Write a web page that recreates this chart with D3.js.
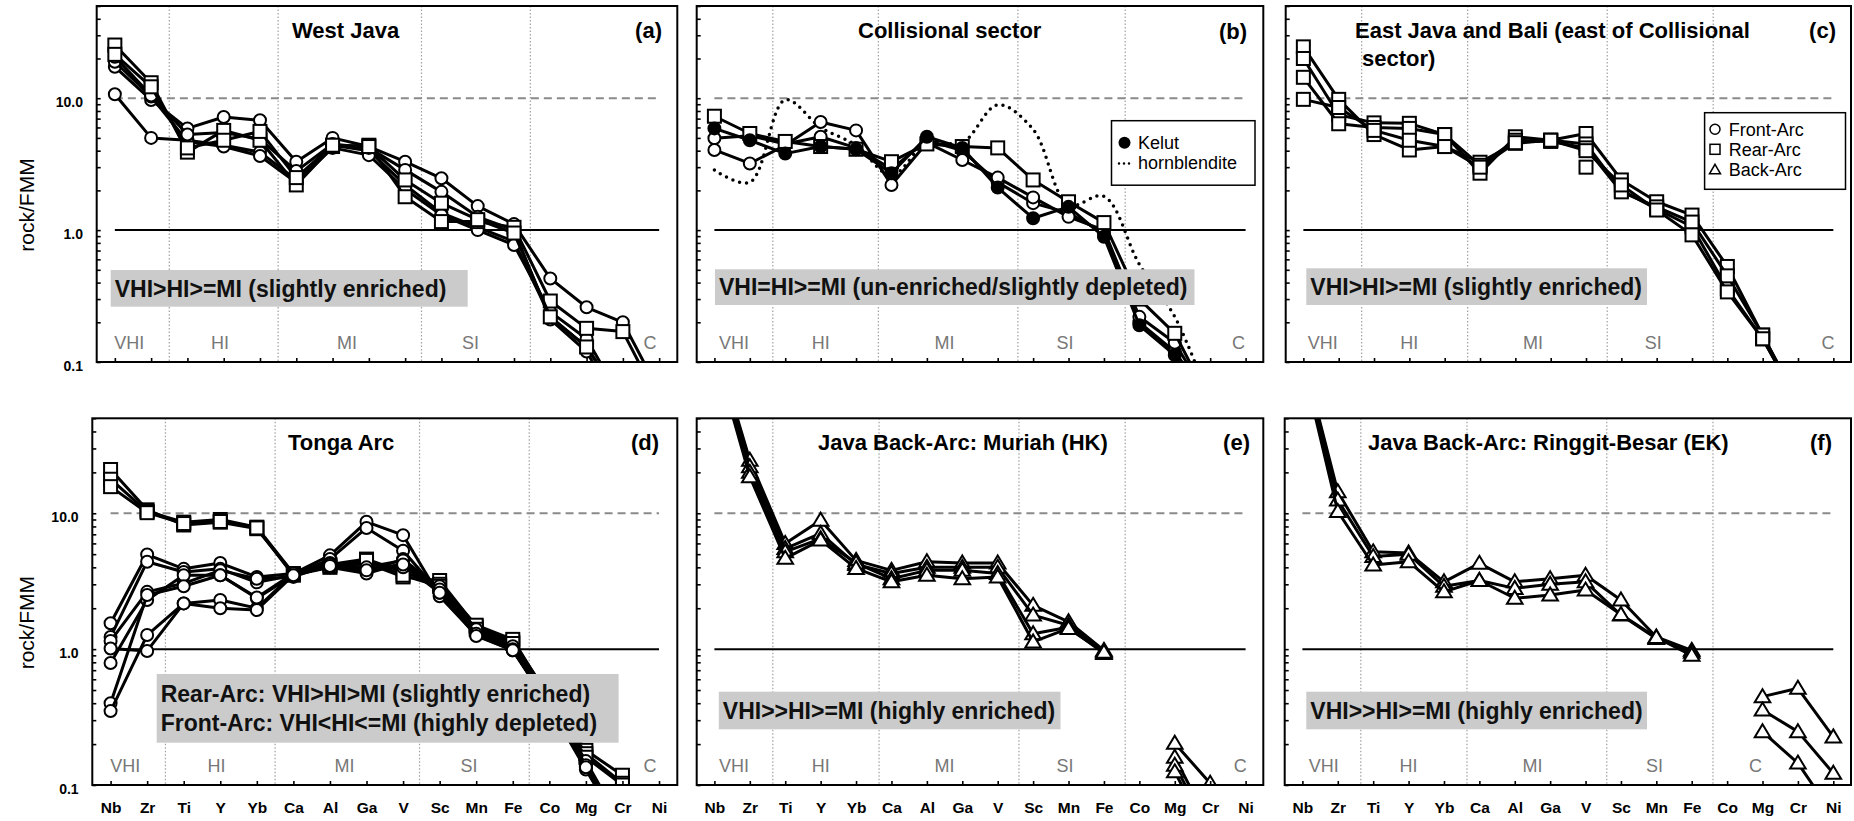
<!DOCTYPE html>
<html><head><meta charset="utf-8">
<script src="https://cdn.jsdelivr.net/npm/d3@7"></script>
<style>
body{margin:0;background:#fff;}
svg{display:block;font-family:"Liberation Sans",Arial,Helvetica,sans-serif;}
</style></head><body>
<svg id="chart" width="1854" height="821"></svg>
<script>
// ---------------- data ----------------
const elements = ["Nb","Zr","Ti","Y","Yb","Ca","Al","Ga","V","Sc","Mn","Fe","Co","Mg","Cr","Ni"];
const regionNames = ["VHI","HI","MI","SI","C"];
const yTickValues = [0.1, 1, 10];
const yTickLabels = ["0.1","1.0","10.0"];
const yLabel = "rock/FMM";
const titles = [["West Java"],["Collisional sector"],["East Java and Bali (east of Collisional","sector)"],["Tonga Arc"],["Java Back-Arc: Muriah (HK)"],["Java Back-Arc: Ringgit-Besar (EK)"]];
const letters = ["(a)","(b)","(c)","(d)","(e)","(f)"];
const notes = [["VHI>HI>=MI (slightly enriched)"],["VHI=HI>=MI (un-enriched/slightly depleted)"],["VHI>HI>=MI (slightly enriched)"],["Rear-Arc: VHI>HI>MI (slightly enriched)","Front-Arc: VHI<HI<=MI (highly depleted)"],["VHI>>HI>=MI (highly enriched)"],["VHI>>HI>=MI (highly enriched)"]];
const legendB = ["Kelut","hornblendite"];
const legendC = ["Front-Arc","Rear-Arc","Back-Arc"];

// (a) West Java
const aFront = [
 [10.7, 5.0, 4.8, 4.4, 3.9, 2.4, 4.4, 4.0, 2.2, 1.35, 1.05, 0.82, 0.22, 0.13, 0.05, null],
 [17.3, 9.7, 5.9, 7.2, 6.8, 3.3, 5.0, 4.3, 3.3, 2.47, 1.52, 1.11, 0.43, 0.26, 0.20, 0.06],
 [18.9, 10.3, 4.7, 4.3, 3.65, 2.29, 4.2, 3.7, 2.04, 1.3, 1.0, 0.77, 0.24, 0.15, 0.05, null],
 [20.6, 10.5, 5.3, 5.5, 4.9, 2.8, 4.5, 4.2, 2.86, 1.95, 1.26, 1.0, 0.21, 0.12, 0.04, null]
];
const aRear = [
 [25.3, 13.1, 3.9, 5.7, 4.8, 2.2, 4.3, 4.4, 1.79, 1.16, 1.16, 1.05, 0.29, 0.18, 0.17, 0.05],
 [21.5, 12.2, 4.2, 4.8, 5.6, 2.5, 4.4, 4.3, 2.4, 1.6, 1.2, 0.95, 0.22, 0.13, 0.05, null]
];
// (b) Collisional sector
const bFront = [
 [4.97, 5.2, 4.5, 5.1, 4.2, 2.9, 4.8, 4.0, 2.3, 1.6, 1.35, 0.95, 0.2, 0.12, 0.05, null],
 [4.05, 3.2, 4.4, 6.6, 5.7, 2.2, 4.6, 3.4, 2.5, 1.77, 1.26, 1.0, 0.22, 0.14, 0.05, null]
];
const bRear = [[7.3, 5.4, 4.7, 4.3, 4.1, 3.3, 4.5, 4.3, 4.2, 2.4, 1.64, 1.14, 0.3, 0.165, 0.05, null]];
const bKelut = [[5.9, 4.8, 3.8, 4.3, 4.1, 2.7, 5.1, 4.2, 2.1, 1.23, 1.5, 0.89, 0.19, 0.113, 0.04, null]];
const bHornblendite = [2.85, 2.3, 9.7, 6.0, 4.4, 2.6, 4.6, 4.6, 8.9, 5.8, 1.55, 1.8, 0.55, 0.22, 0.05, null];
// (c) East Java and Bali
const cRear = [
 [24.5, 9.8, 5.3, 4.05, 4.3, 3.27, 4.55, 4.8, 5.4, 2.4, 1.64, 1.3, 0.53, 0.16, 0.05, null],
 [20.0, 7.5, 6.5, 6.45, 5.3, 2.7, 5.1, 4.8, 4.5, 2.0, 1.45, 1.06, 0.36, 0.15, 0.05, null],
 [14.4, 6.4, 6.0, 5.9, 5.3, 3.1, 4.8, 4.7, 4.2, 1.95, 1.5, 1.15, 0.45, 0.16, 0.05, null],
 [9.8, 8.5, 5.7, 4.8, 4.3, 3.0, 4.6, 4.8, 4.0, 2.2, 1.42, 0.92, 0.34, 0.15, 0.05, null],
 [null, null, null, null, null, null, null, null, 3.0, null, null, null, null, null, null, null]
];
// (d) Tonga Arc
const dFront = [
 [1.55, 4.97, 3.9, 4.3, 3.4, 3.6, 4.9, 8.65, 6.9, 2.45, 1.27, 0.98, 0.40, 0.145, 0.05, null],
 [1.23, 4.4, 3.7, 3.9, 3.1, 3.5, 4.6, 7.8, 5.3, 2.6, 1.3, 1.0, 0.38, 0.135, 0.045, null],
 [1.15, 2.64, 3.05, 3.8, 3.3, 3.4, 4.2, 3.7, 4.6, 2.8, 1.35, 1.02, 0.40, 0.14, 0.05, null],
 [0.79, 2.3, 3.5, 3.5, 2.37, 3.5, 4.0, 3.6, 4.3, 2.7, 1.3, 1.0, 0.38, 0.13, 0.045, null],
 [1.01, 0.97, 2.17, 2.3, 2.0, 3.6, 4.3, 3.9, 4.0, 2.9, 1.4, 1.05, 0.42, 0.15, 0.05, null],
 [0.40, 2.5, 2.9, 3.5, 2.4, 3.6, 4.2, 4.0, 4.5, 2.75, 1.3, 1.0, 0.40, 0.14, 0.05, null],
 [0.35, 1.27, 2.17, 2.0, 1.94, 3.5, 4.1, 3.8, 4.2, 2.6, 1.25, 0.98, 0.38, 0.135, 0.045, null]
];
const dRear = [
 [21.0, 10.6, 8.2, 8.6, 7.7, 3.57, 4.0, 4.3, 3.4, 3.2, 1.46, 1.13, 0.45, 0.18, 0.118, null],
 [17.8, 10.3, 8.6, 9.0, 7.9, 3.6, 4.2, 4.6, 3.7, 3.0, 1.5, 1.18, 0.43, 0.17, 0.103, null],
 [15.7, 10.1, 8.4, 8.7, 7.8, 3.5, 4.1, 4.5, 3.5, 2.9, 1.4, 1.10, 0.42, 0.16, 0.10, null]
];
// (e) Muriah
const eBack = [
 [185, 24.6, 6.0, 8.9, 4.5, 3.8, 4.4, 4.3, 4.3, 2.1, 1.59, 0.98, null, 0.203, 0.103, null],
 [175, 22.0, 5.5, 7.1, 4.2, 3.6, 4.0, 4.0, 4.0, 1.78, 1.5, 0.96, null, 0.16, 0.05, null],
 [165, 20.0, 5.2, 6.5, 4.3, 3.3, 3.8, 3.8, 3.6, 1.3, 1.45, 0.93, null, 0.14, 0.045, null],
 [155, 18.6, 4.66, 6.35, 3.93, 3.13, 3.5, 3.3, 3.4, 1.13, 1.42, 0.95, null, 0.125, 0.04, null]
];
// (f) Ringgit-Besar
const fBack = [
 [150, 14.4, 5.2, 5.1, 3.13, 4.28, 3.13, 3.3, 3.5, 2.3, 1.23, 0.98, null, 0.447, 0.515, 0.226],
 [140, 12.5, 4.8, 5.0, 2.9, 3.2, 2.8, 3.0, 3.13, 1.78, 1.2, 0.95, null, 0.356, 0.247, 0.122],
 [130, 10.3, 4.16, 4.4, 2.64, 3.2, 2.37, 2.5, 2.72, 1.8, 1.22, 0.9, null, 0.247, 0.145, 0.06]
];

// ---------------- layout (styles) ----------------
const frames = [
 {x0:96.7, x1:677.3, y0:6, y1:362},
 {x0:696.7, x1:1263.3, y0:6, y1:362},
 {x0:1285.7, x1:1851, y0:6, y1:362},
 {x0:92.3, x1:677.3, y0:418.3, y1:785},
 {x0:696.7, x1:1263.3, y0:418.3, y1:785},
 {x0:1284.7, x1:1851, y0:418.3, y1:785}
];
const sepIdx = [[1.5,4.5,8.45,11.45],[1.65,4.63,8.57,11.6],[1.65,4.65,8.6,11.6],[1.5,4.5,8.45,11.45],[1.65,4.65,8.6,11.6],[1.65,4.65,8.6,11.6]];
const regionIdx = [[0.4,2.9,6.4,9.8,14.75],[0.55,3.0,6.5,9.9,14.8],[0.55,3.0,6.5,9.9,14.85],[0.4,2.9,6.4,9.8,14.75],[0.55,3.0,6.5,9.9,14.85],[0.6,3.0,6.5,9.95,12.8]];
const titlePos = [{x:292,y:30},{x:858,y:30},{x:1355,y:30},{x:288,y:441.7},{x:818,y:441.7},{x:1368,y:441.7}];
const letterPos = [{x:662,y:30},{x:1247,y:31},{x:1836,y:30},{x:659,y:441.7},{x:1250,y:441.7},{x:1832,y:441.7}];
const noteBox = [
 {x:110.7,y:270,w:357,h:36.7},
 {x:715,y:269.3,w:479.5,h:35.7},
 {x:1306.3,y:268.3,w:340.7,h:36.7},
 {x:156.7,y:674,w:461.9,h:68.7},
 {x:718.8,y:691.7,w:341.7,h:37.6},
 {x:1306.3,y:691.7,w:340.7,h:37.6}
];
const panels = [
 {series:[{data:aFront,type:"circle"},{data:aRear,type:"square"}]},
 {series:[{data:bFront,type:"circle"},{data:bRear,type:"square"},{data:bKelut,type:"filled"}], dotted:bHornblendite},
 {series:[{data:cRear,type:"square"}]},
 {series:[{data:dRear,type:"square"},{data:dFront,type:"circle"}]},
 {series:[{data:eBack,type:"triangle"}]},
 {series:[{data:fBack,type:"triangle"}]}
];

// ---------------- drawing ----------------
const svg = d3.select("#chart");
const defs = svg.append("defs");
const triPath = "M0,-7.5L7.8,5.5L-7.8,5.5Z";

function drawMarkers(sel, pts, type, x, y, scale){
  const s = scale || 1;
  if(type === "circle" || type === "filled"){
    sel.selectAll(null).data(pts).join("circle")
      .attr("cx", d => x(d.k)).attr("cy", d => y(d.v)).attr("r", 6*s)
      .attr("fill", type === "filled" ? "#000" : "#fff").attr("stroke","#000").attr("stroke-width",2);
  } else if(type === "square"){
    sel.selectAll(null).data(pts).join("rect")
      .attr("x", d => x(d.k)-6.5*s).attr("y", d => y(d.v)-6.5*s).attr("width",13*s).attr("height",13*s)
      .attr("fill","#fff").attr("stroke","#000").attr("stroke-width",2);
  } else {
    sel.selectAll(null).data(pts).join("path")
      .attr("d", triPath).attr("transform", d => `translate(${x(d.k)},${y(d.v)}) scale(${s})`)
      .attr("fill","#fff").attr("stroke","#000").attr("stroke-width",2);
  }
}

panels.forEach((p, i) => {
  const f = frames[i];
  const x = d3.scalePoint().domain(elements).range([f.x0, f.x1]).padding(0.5);
  const step = x.step();
  const xi = idx => x(elements[0]) + idx*step;
  const y = d3.scaleLog().domain([0.1, 50]).range([f.y1, f.y0]);
  const g = svg.append("g");
  defs.append("clipPath").attr("id","clip"+i).append("rect")
    .attr("x",f.x0).attr("y",f.y0).attr("width",f.x1-f.x0).attr("height",f.y1-f.y0);

  // separators
  g.selectAll(null).data(sepIdx[i]).join("line")
    .attr("x1", d => xi(d)).attr("x2", d => xi(d)).attr("y1", f.y0).attr("y2", f.y1)
    .attr("stroke","#a0a0a0").attr("stroke-width",1.2).attr("stroke-dasharray","1.5,2");

  // reference lines
  g.append("line").attr("x1", x("Nb")).attr("x2", x("Ni")).attr("y1", y(10)).attr("y2", y(10))
    .attr("stroke","#8a8a8a").attr("stroke-width",2).attr("stroke-dasharray","8,5");
  g.append("line").attr("x1", x("Nb")).attr("x2", x("Ni")).attr("y1", y(1)).attr("y2", y(1))
    .attr("stroke","#000").attr("stroke-width",2);

  // region labels
  g.selectAll(null).data(regionNames).join("text")
    .attr("x", (d,j) => xi(regionIdx[i][j])).attr("y", f.y1 - 19).attr("dy","0.36em")
    .attr("text-anchor","middle").attr("font-size",18).attr("fill","#777").text(d => d);

  const plot = g.append("g").attr("clip-path", `url(#clip${i})`);
  // dotted hornblendite curve
  if(p.dotted){
    const pts = p.dotted.map((v,k) => ({k:elements[k], v})).filter(d => d.v != null);
    plot.append("path").attr("d", d3.line().x(d => x(d.k)).y(d => y(d.v)).curve(d3.curveCatmullRom.alpha(0.5))(pts))
      .attr("fill","none").attr("stroke","#000").attr("stroke-width",3.5)
      .attr("stroke-linecap","round").attr("stroke-dasharray","0,7");
  }
  const line = d3.line().defined(d => d.v != null).x(d => x(d.k)).y(d => y(d.v));
  p.series.forEach(s => {
    s.data.forEach(row => {
      const pts = row.map((v,k) => ({k:elements[k], v}));
      plot.append("path").attr("d", line(pts)).attr("fill","none")
        .attr("stroke","#000").attr("stroke-width",3).attr("stroke-linejoin","round");
      drawMarkers(plot, pts.filter(d => d.v != null), s.type, x, y);
    });
  });

  // note box
  const nb = noteBox[i];
  g.append("rect").attr("x",nb.x).attr("y",nb.y).attr("width",nb.w).attr("height",nb.h).attr("fill","#cbcbcb");
  const nl = notes[i];
  g.selectAll(null).data(nl).join("text")
    .attr("x", nb.x + 4).attr("y", (d,j) => nb.y + nb.h/2 + (j - (nl.length-1)/2)*28.4).attr("dy","0.36em")
    .attr("font-size",23).attr("font-weight","bold").attr("fill","#111").text(d => d);

  // title & letter
  g.selectAll(null).data(titles[i]).join("text")
    .attr("x", (d,j) => titlePos[i].x + j*7).attr("y", (d,j) => titlePos[i].y + j*28).attr("dy","0.36em")
    .attr("font-size",22).attr("font-weight","bold").text(d => d);
  g.append("text").attr("x", letterPos[i].x).attr("y", letterPos[i].y).attr("dy","0.36em")
    .attr("text-anchor","end").attr("font-size",22).attr("font-weight","bold").text(letters[i]);

  // frame
  g.append("rect").attr("x",f.x0).attr("y",f.y0).attr("width",f.x1-f.x0).attr("height",f.y1-f.y0)
    .attr("fill","none").attr("stroke","#000").attr("stroke-width",2);

  // y ticks (minor + major)
  const minor = [];
  [0.1,1,10].forEach(dec => { for(let k=1;k<=9;k++){ const v=+(k*dec).toFixed(3); if(v<=50) minor.push(v);} });
  const yAx = g.append("g").attr("transform",`translate(${f.x0},0)`)
    .call(d3.axisLeft(y).tickValues(minor).tickSize(-4).tickFormat(""));
  yAx.select(".domain").remove();
  yAx.selectAll("line").attr("stroke","#000").attr("stroke-width",1.6);

  // x ticks
  const xAx = g.append("g").attr("transform",`translate(0,${f.y1})`)
    .call(d3.axisBottom(x).tickSizeInner(-4).tickSizeOuter(0).tickPadding(16.7).tickFormat(i >= 3 ? (d => d) : ""));
  xAx.select(".domain").remove();
  xAx.selectAll("line").attr("stroke","#000").attr("stroke-width",1.6);
  xAx.selectAll("text").attr("font-size",15.5).attr("font-weight","bold").attr("fill","#000")
    .attr("font-family",null);

  // y labels on first column
  if(i === 0 || i === 3){
    const lab = g.append("g").attr("transform",`translate(${f.x0},0)`)
      .call(d3.axisLeft(y).tickValues(yTickValues).tickSize(0).tickPadding(13.7).tickFormat((d,j) => yTickLabels[j]));
    lab.select(".domain").remove();
    lab.selectAll("text").attr("font-size",14).attr("font-weight","bold").attr("fill","#000")
      .attr("dy","0.58em").attr("font-family",null);
    g.append("text").attr("transform",`translate(34,${(f.y0+f.y1)/2 + 21}) rotate(-90)`)
      .attr("text-anchor","middle").attr("font-size",21).text(yLabel);
  }

  // legends
  if(i === 1){
    const L = g.append("g");
    L.append("rect").attr("x",1111.5).attr("y",120.7).attr("width",143.5).attr("height",64.5)
      .attr("fill","#fff").attr("stroke","#000").attr("stroke-width",1.5);
    L.append("circle").attr("cx",1124.5).attr("cy",142.7).attr("r",6).attr("fill","#000");
    L.append("line").attr("x1",1119).attr("x2",1131).attr("y1",163.5).attr("y2",163.5)
      .attr("stroke","#000").attr("stroke-width",2.5).attr("stroke-linecap","round").attr("stroke-dasharray","0,5");
    L.selectAll(null).data(legendB).join("text").attr("x",1138).attr("y",(d,j) => 142.7 + j*20).attr("dy","0.36em")
      .attr("font-size",18).text(d => d);
  }
  if(i === 2){
    const L = g.append("g");
    L.append("rect").attr("x",1704.6).attr("y",112.7).attr("width",140.9).attr("height",76.6)
      .attr("fill","#fff").attr("stroke","#000").attr("stroke-width",1.5);
    const lx = d3.scalePoint().domain(legendC).range([129.3,169.3]);
    L.append("circle").attr("cx",1715).attr("cy",lx("Front-Arc")).attr("r",5).attr("fill","#fff").attr("stroke","#000").attr("stroke-width",1.5);
    L.append("rect").attr("x",1710).attr("y",lx("Rear-Arc")-5).attr("width",10).attr("height",10).attr("fill","#fff").attr("stroke","#000").attr("stroke-width",1.5);
    L.append("path").attr("d","M0,-5L5.5,4.5L-5.5,4.5Z").attr("transform",`translate(1715,${lx("Back-Arc")})`).attr("fill","#fff").attr("stroke","#000").attr("stroke-width",1.5);
    L.selectAll(null).data(legendC).join("text").attr("x",1728.8).attr("y",d => lx(d)).attr("dy","0.36em")
      .attr("font-size",18).text(d => d);
  }
});
</script>
</body></html>
